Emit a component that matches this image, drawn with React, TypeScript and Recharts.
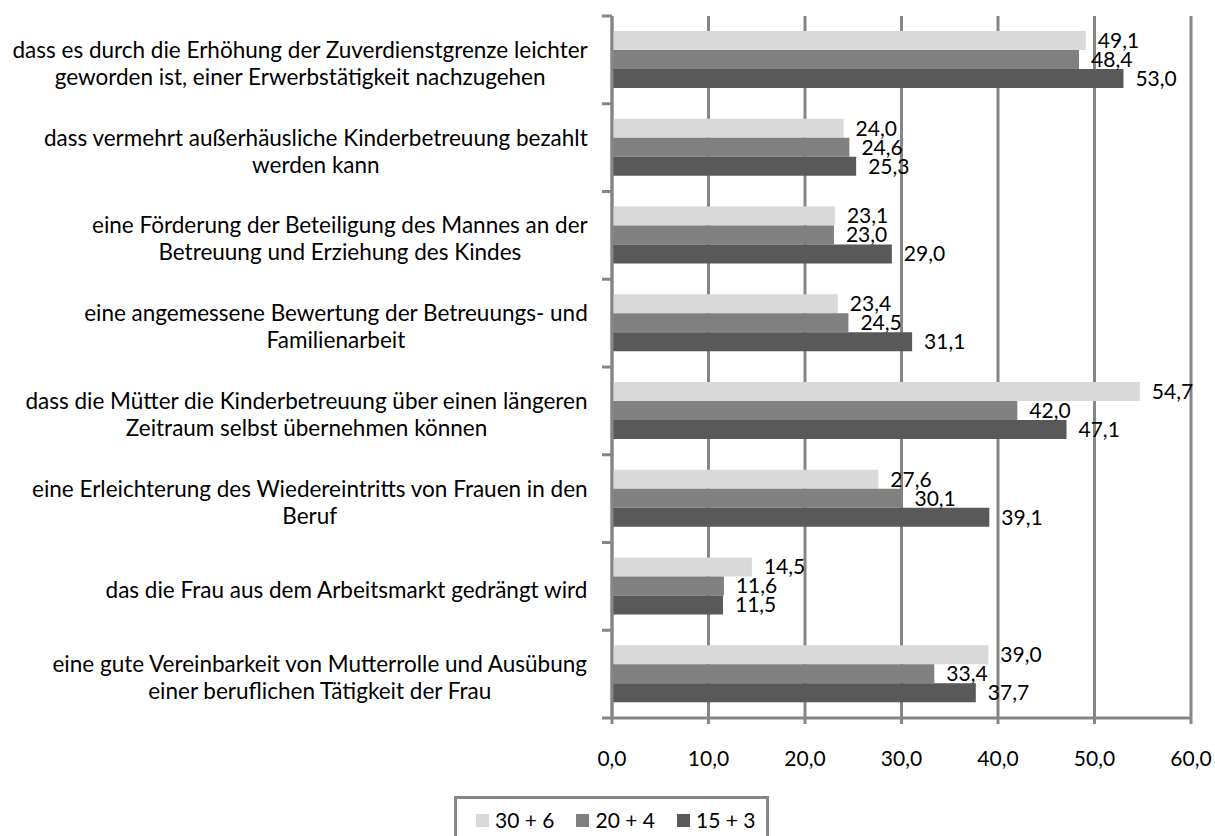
import React from "react";
import { BarChart, Bar, XAxis, YAxis, CartesianGrid, Legend, LabelList } from "recharts";

const categories = [
  "dass es durch die Erhöhung der Zuverdienstgrenze leichter\ngeworden ist, einer Erwerbstätigkeit  nachzugehen",
  "dass vermehrt außerhäusliche Kinderbetreuung bezahlt\nwerden kann",
  "eine Förderung der Beteiligung des Mannes an der\nBetreuung und Erziehung des Kindes",
  "eine angemessene Bewertung der Betreuungs- und\nFamilienarbeit",
  "dass die Mütter die Kinderbetreuung über einen längeren\nZeitraum selbst übernehmen können",
  "eine Erleichterung des Wiedereintritts von Frauen in den\nBeruf",
  "das die Frau aus dem Arbeitsmarkt gedrängt wird",
  "eine gute Vereinbarkeit von Mutterrolle und Ausübung\neiner beruflichen Tätigkeit der Frau",
];
const seriesNames = ["30 + 6", "20 + 4", "15 + 3"];
const s30_6 = [49.1, 24.0, 23.1, 23.4, 54.7, 27.6, 14.5, 39.0];
const s20_4 = [48.4, 24.6, 23.0, 24.5, 42.0, 30.1, 11.6, 33.4];
const s15_3 = [53.0, 25.3, 29.0, 31.1, 47.1, 39.1, 11.5, 37.7];
const xTicks = [0, 10, 20, 30, 40, 50, 60];

const colors = ["#d9d9d9", "#808080", "#595959"];
const GRID = "#868686";
const FONT = "Lato, 'Open Sans', sans-serif";
const FS = 21;
const CAT_FS = 22.5;
const Y_W = 612;

const data = categories.map((c, i) => ({ cat: c, a: s30_6[i], b: s20_4[i], c: s15_3[i] }));

const fmt = (v: any) => Number(v).toFixed(1).replace(".", ",");

let ctx: CanvasRenderingContext2D | null = null;
function measure(t: string) {
  if (!ctx) {
    const cv = document.createElement("canvas");
    ctx = cv.getContext("2d");
  }
  if (!ctx) return t.length * 11;
  ctx.font = `${CAT_FS}px Lato`;
  return ctx.measureText(t).width;
}

const CatTick = (props: any) => {
  const { y, payload, index } = props;
  const half = payload && typeof payload.offset === "number" && payload.offset > 0 ? payload.offset : 43.875;
  const lines: string[] = String(payload.value).split("\n");
  const w = Math.max(...lines.map(measure));
  const right = Y_W - 24;
  const cx = right - w / 2;
  const n = lines.length;
  return (
    <g>
      <line x1={Y_W - 10} x2={Y_W} y1={y - half} y2={y - half} stroke={GRID} strokeWidth={3} />
      {index === categories.length - 1 && (
        <line x1={Y_W - 10} x2={Y_W} y1={y + half} y2={y + half} stroke={GRID} strokeWidth={3} />
      )}
      {lines.map((l, i) => (
        <text
          key={i}
          x={cx}
          y={y + 3 + (i - (n - 1) / 2) * 27}
          textAnchor="middle"
          dominantBaseline="central"
          fill="#000"
          fontSize={CAT_FS}
          fontFamily={FONT}
        >
          {l}
        </text>
      ))}
    </g>
  );
};

const LegendContent = () => (
  <div
    style={{
      boxSizing: "border-box",
      width: 315,
      height: 50,
      border: `3px solid ${GRID}`,
      display: "flex",
      alignItems: "flex-start",
      paddingTop: 9,
      paddingLeft: 19,
      fontFamily: FONT,
      fontSize: 21,
      color: "#000",
      background: "#fff",
    }}
  >
    {seriesNames.map((s, i) => (
      <div key={s} style={{ display: "flex", alignItems: "center", marginRight: 22, height: 24 }}>
        <div style={{ width: 13, height: 13, background: colors[i], marginRight: 6 }} />
        <span style={{ lineHeight: "24px", whiteSpace: "pre" }}>{s}</span>
      </div>
    ))}
  </div>
);

export default function App() {
  return (
    <div style={{ position: "absolute", left: 0, top: 0, width: 1215, height: 836, background: "#fff", fontFamily: FONT }}>
      <BarChart
        width={1215}
        height={836}
        data={data}
        layout="vertical"
        margin={{ top: 16, right: 24, left: 0, bottom: 8 }}
        barGap={0}
        barSize={19}
      >
        <CartesianGrid horizontal={false} vertical={true} stroke={GRID} strokeWidth={3} />
        <XAxis
          type="number"
          domain={[0, 60]}
          ticks={xTicks}
          tickFormatter={fmt}
          tickSize={6}
          tickMargin={27}
          height={60}
          axisLine={{ stroke: GRID, strokeWidth: 3 }}
          tickLine={{ stroke: GRID, strokeWidth: 3 }}
          tick={{ fill: "#000", fontSize: FS, fontFamily: FONT }}
          interval={0}
        />
        <YAxis
          type="category"
          dataKey="cat"
          width={Y_W}
          interval={0}
          tickLine={false}
          axisLine={{ stroke: GRID, strokeWidth: 3 }}
          tick={<CatTick />}
        />
        <Legend
          verticalAlign="bottom"
          layout="horizontal"
          content={<LegendContent />}
          wrapperStyle={{ position: "absolute", left: 454, top: 796, width: 315, height: 50 }}
        />
        <Bar dataKey="a" name={seriesNames[0]} fill={colors[0]} isAnimationActive={false}>
          <LabelList dataKey="a" position="right" offset={12} formatter={fmt} fill="#000" fontSize={FS} fontFamily={FONT} />
        </Bar>
        <Bar dataKey="b" name={seriesNames[1]} fill={colors[1]} isAnimationActive={false}>
          <LabelList dataKey="b" position="right" offset={12} formatter={fmt} fill="#000" fontSize={FS} fontFamily={FONT} />
        </Bar>
        <Bar dataKey="c" name={seriesNames[2]} fill={colors[2]} isAnimationActive={false}>
          <LabelList dataKey="c" position="right" offset={12} formatter={fmt} fill="#000" fontSize={FS} fontFamily={FONT} />
        </Bar>
      </BarChart>
    </div>
  );
}
